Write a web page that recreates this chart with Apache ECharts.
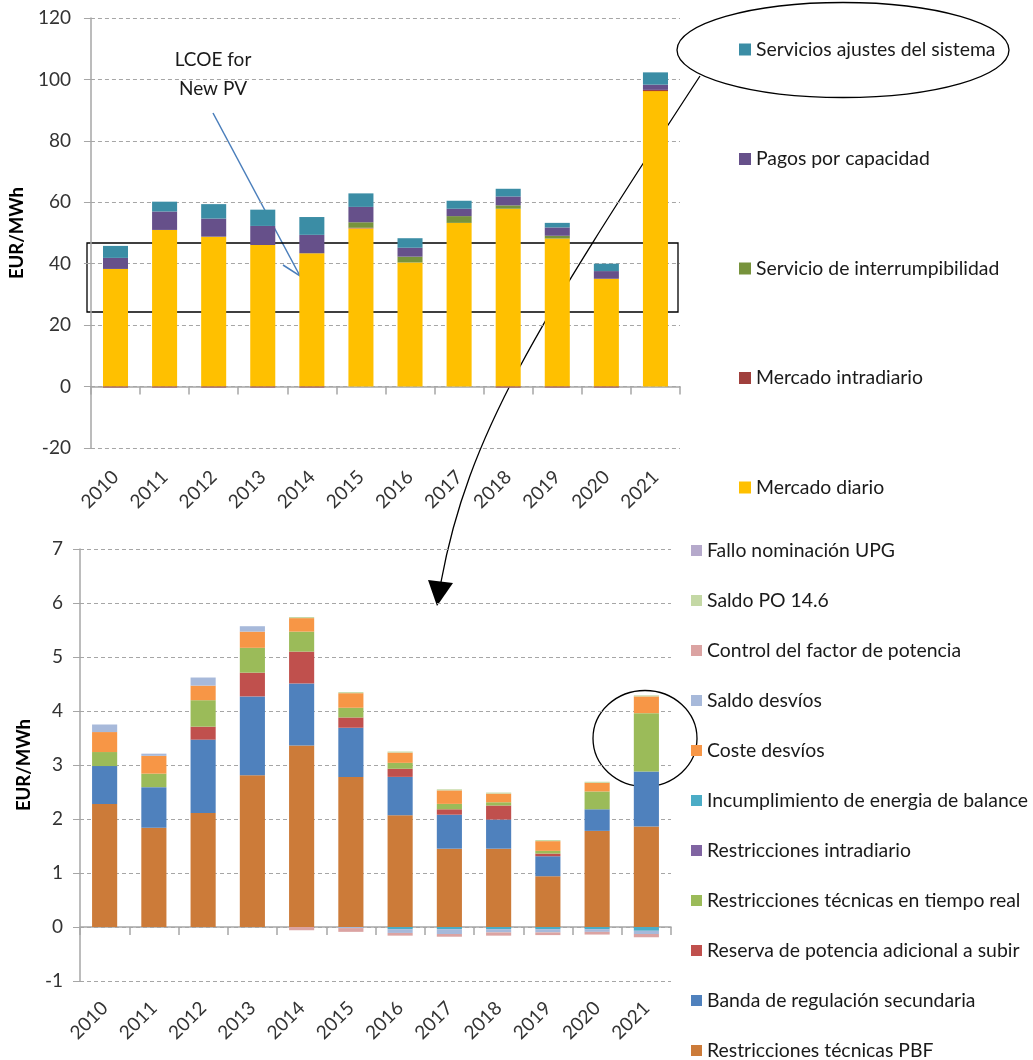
<!DOCTYPE html>
<html>
<head>
<meta charset="utf-8">
<script src="https://cdn.jsdelivr.net/npm/echarts@6/dist/echarts.min.js"></script>
<style>
  html, body { margin: 0; padding: 0; background: #fff; }
  #chart { width: 1033px; height: 1060px; }
</style>
</head>
<body>
<div id="chart"></div>
<script>
// categories
var years = ['2010', '2011', '2012', '2013', '2014', '2015', '2016', '2017', '2018', '2019', '2020', '2021'];

// top chart (EUR/MWh)
var mercadoDiario = [38.3, 51.0, 48.8, 46.1, 43.4, 51.5, 40.4, 53.3, 57.9, 48.2, 35.1, 96.2];
var mercadoIntradiario = [-0.3, -0.3, -0.3, -0.3, -0.3, 0.2, 0, 0, -0.3, -0.3, -0.3, 0.4];
var interrumpibilidad = [0, 0, 0, 0, 0, 1.8, 1.9, 2.2, 1.1, 0.9, 0, 0];
var pagosCapacidad = [3.6, 6.0, 5.9, 6.2, 6.0, 5.0, 2.9, 2.4, 2.9, 2.7, 2.5, 1.7];
var serviciosAjustes = [3.9, 3.2, 4.7, 5.3, 5.8, 4.4, 3.1, 2.6, 2.5, 1.5, 2.4, 4.0];

// bottom chart (EUR/MWh), stack order bottom -> top
var restPBF = [2.28, 1.84, 2.11, 2.81, 3.36, 2.78, 2.07, 1.45, 1.45, 0.94, 1.78, 1.86];
var bandaSecundaria = [0.70, 0.75, 1.36, 1.46, 1.15, 0.91, 0.71, 0.63, 0.54, 0.37, 0.40, 1.02];
var reservaSubir = [0, 0, 0.24, 0.44, 0.59, 0.19, 0.15, 0.10, 0.26, 0.05, 0, 0];
var restTiempoReal = [0.26, 0.25, 0.49, 0.46, 0.37, 0.18, 0.11, 0.10, 0.06, 0.05, 0.33, 1.08];
var restIntradiario = [0, 0, 0, 0, 0, 0, 0, 0, 0, 0, 0, 0];
var incumplimiento = [0, 0, 0, 0, 0, 0, -0.04, -0.04, -0.04, -0.04, -0.04, -0.07];
var costeDesvios = [0.37, 0.33, 0.27, 0.30, 0.25, 0.27, 0.19, 0.25, 0.16, 0.18, 0.16, 0.31];
var saldoDesvios = [0.14, 0.04, 0.15, 0.10, 0, -0.02, -0.07, -0.09, -0.06, -0.06, -0.05, -0.06];
var controlFactor = [0, 0, 0, 0, -0.06, -0.07, -0.05, -0.05, -0.06, -0.05, -0.05, -0.06];
var saldoPO = [0, 0, 0, 0, 0.02, 0.02, 0.02, 0.02, 0.02, 0.02, 0.02, 0.02];
var falloUPG = [0, 0, 0, 0, 0, 0, 0, 0, 0, 0, 0, 0];

var font = 'Lato';
var gridGray = '#a6a6a6';

var topSeries = [
  { name: 'Mercado diario', data: mercadoDiario, color: '#ffc000' },
  { name: 'Mercado intradiario', data: mercadoIntradiario, color: '#a0403d' },
  { name: 'Servicio de interrumpibilidad', data: interrumpibilidad, color: '#77933c' },
  { name: 'Pagos por capacidad', data: pagosCapacidad, color: '#66508a' },
  { name: 'Servicios ajustes del sistema', data: serviciosAjustes, color: '#3b8da5' }
];
var botSeries = [
  { name: 'Restricciones técnicas PBF', data: restPBF, color: '#cc7b39' },
  { name: 'Banda de regulación secundaria', data: bandaSecundaria, color: '#4f81bd' },
  { name: 'Reserva de potencia adicional a subir', data: reservaSubir, color: '#c0504d' },
  { name: 'Restricciones técnicas en tiempo real', data: restTiempoReal, color: '#9bbb59' },
  { name: 'Restricciones intradiario', data: restIntradiario, color: '#8064a2' },
  { name: 'Incumplimiento de energia de balance', data: incumplimiento, color: '#4bacc6' },
  { name: 'Coste desvíos', data: costeDesvios, color: '#f79646' },
  { name: 'Saldo desvíos', data: saldoDesvios, color: '#a7b9da' },
  { name: 'Control del factor de potencia', data: controlFactor, color: '#dba3a2' },
  { name: 'Saldo PO 14.6', data: saldoPO, color: '#c4d8a5' },
  { name: 'Fallo nominación UPG', data: falloUPG, color: '#b5a9cb' }
];

var series = [];
topSeries.forEach(function (s) {
  series.push({
    name: s.name, type: 'bar', stack: 'top', xAxisIndex: 0, yAxisIndex: 0,
    barWidth: '51%', itemStyle: { color: s.color }, data: s.data
  });
});
botSeries.forEach(function (s) {
  series.push({
    name: s.name, type: 'bar', stack: 'bot', xAxisIndex: 2, yAxisIndex: 1,
    barWidth: '51%', itemStyle: { color: s.color }, data: s.data
  });
});

function labelAxis(gridIndex, margin) {
  return {
    type: 'category', gridIndex: gridIndex, data: years, position: 'bottom',
    axisLine: { show: false, onZero: false }, axisTick: { show: false },
    axisLabel: { rotate: 45, margin: margin, fontFamily: font, fontSize: 19, color: '#333', interval: 0 }
  };
}
function zeroAxis(gridIndex) {
  return {
    type: 'category', gridIndex: gridIndex, data: years, position: 'bottom',
    axisLine: { show: true, onZero: true, lineStyle: { color: gridGray, width: 1.5 } },
    axisTick: { show: true, length: 8, interval: 0, lineStyle: { color: gridGray, width: 1.5 } },
    axisLabel: { show: false }
  };
}
function valueAxis(gridIndex, min, max, interval, margin, nameGap) {
  return {
    type: 'value', gridIndex: gridIndex, min: min, max: max, interval: interval,
    name: 'EUR/MWh', nameLocation: 'middle', nameGap: nameGap,
    nameTextStyle: { fontFamily: font, fontSize: 18.5, fontWeight: 'bold', color: '#000' },
    axisLine: { show: true, lineStyle: { color: gridGray, width: 1.5 } },
    axisTick: { show: true, length: 7, lineStyle: { color: gridGray } },
    axisLabel: { fontFamily: font, fontSize: 19, color: '#333', margin: margin },
    splitLine: { show: true, lineStyle: { color: gridGray, type: [4, 3], width: 1 } }
  };
}

function legendBlock(left, top, gap, size, names) {
  return {
    orient: 'vertical', left: left, top: top, height: 600, padding: 0, itemGap: gap,
    itemWidth: size, itemHeight: size, icon: 'rect', selectedMode: false,
    textStyle: { fontFamily: font, fontSize: 19.4, color: '#1a1a1a' },
    data: names
  };
}

var chart = echarts.init(document.getElementById('chart'));
chart.setOption({
  animation: false,
  backgroundColor: '#fff',
  grid: [
    { left: 89, top: 18, width: 591, height: 430 },
    { left: 80, top: 549, width: 591, height: 432 }
  ],
  xAxis: [labelAxis(0, 26), zeroAxis(0), labelAxis(1, 24), zeroAxis(1)],
  yAxis: [valueAxis(0, -20, 120, 20, 20, 61), valueAxis(1, -1, 7, 1, 17, 46)],
  legend: [
    legendBlock(739, 40, 90.5, 12, topSeries.map(function (s) { return s.name; }).reverse()),
    legendBlock(691, 541, 31, 11, botSeries.map(function (s) { return s.name; }).reverse())
  ],
  series: series,
  graphic: [
    // LCOE annotation
    { type: 'text', style: { text: 'LCOE for', x: 213, y: 60, font: '19px Lato', fill: '#1a1a1a', textAlign: 'center', textVerticalAlign: 'middle' } },
    { type: 'text', style: { text: 'New PV', x: 213, y: 89, font: '19px Lato', fill: '#1a1a1a', textAlign: 'center', textVerticalAlign: 'middle' } },
    { type: 'line', shape: { x1: 213, y1: 113, x2: 300, y2: 276 }, style: { stroke: '#4a7ebb', lineWidth: 1.5 } },
    { type: 'polyline', shape: { points: [[283, 265], [300, 276], [301, 255]] }, style: { stroke: '#4a7ebb', lineWidth: 1.5, fill: null } },
    // LCOE band rectangle
    { type: 'rect', shape: { x: 87, y: 243, width: 591, height: 69 }, style: { fill: null, stroke: '#000', lineWidth: 1.3 } },
    // ellipse round legend item
    { type: 'ellipse', shape: { cx: 843, cy: 50, rx: 166, ry: 47.5 }, style: { fill: null, stroke: '#000', lineWidth: 1.3 } },
    // curved connector
    { type: 'bezierCurve', shape: { x1: 700, y1: 76, cpx1: 536, cpy1: 327, cpx2: 468, cpy2: 435, x2: 441, y2: 582 }, style: { fill: null, stroke: '#000', lineWidth: 1.3 } },
    { type: 'polygon', shape: { points: [[428, 580], [453, 583], [437, 606]] }, style: { fill: '#000' } },
    // circle round 2021 bar
    { type: 'ellipse', shape: { cx: 645, cy: 738.5, rx: 52, ry: 48 }, style: { fill: null, stroke: '#000', lineWidth: 1.3 } }
  ]
});
</script>
</body>
</html>
